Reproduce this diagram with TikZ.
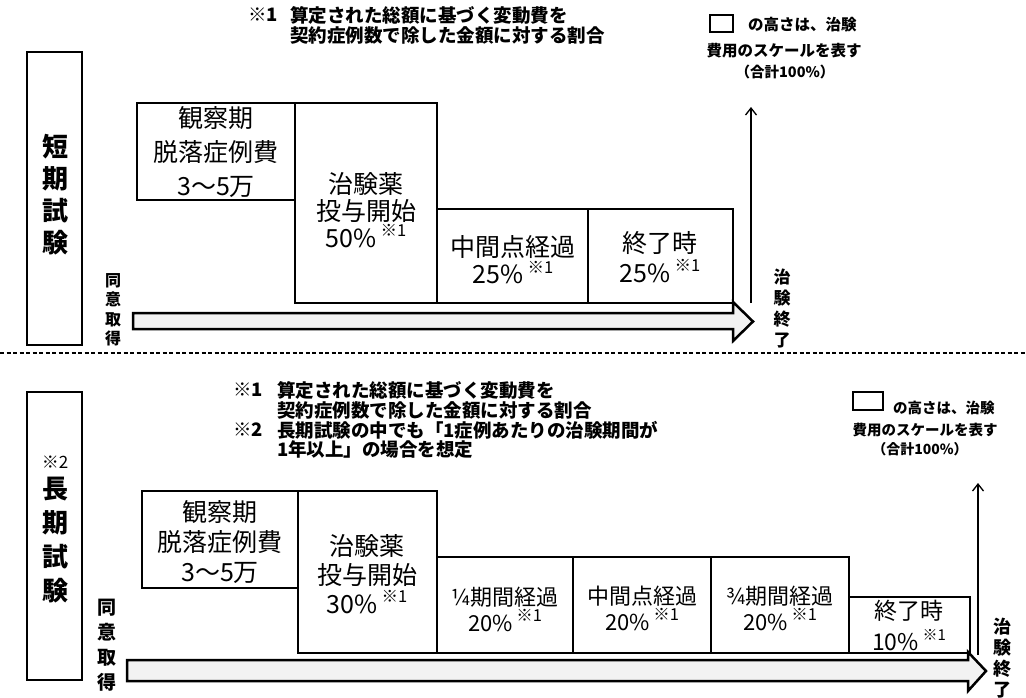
\documentclass[tikz,border=0pt]{standalone}
\usepackage{fontspec}
\setmainfont{Noto Sans CJK JP}
\usetikzlibrary{arrows.meta}
\newcommand{\fsz}[2]{\fontsize{#1}{#2}\selectfont}
\newcommand{\kmark}{\raisebox{0.42em}{\fsz{16.5}{16.5}※1}}
\begin{document}
\begin{tikzpicture}[x=1pt,y=-1pt,
  cbox/.style={draw, line width=2.2pt, inner sep=0pt},
  lbox/.style={draw, line width=2.5pt, inner sep=0pt, minimum width=55pt},
  btxt/.style={align=center, inner sep=0pt},
  note/.style={anchor=west, inner sep=0pt, font=\bfseries\fsz{18.5}{20}},
  vtxt/.style={align=center, inner sep=0pt},
  tline/.style={draw, line width=2.5pt, fill=black!5, line join=miter},
  uparrow/.style={line width=1.3pt, -{Straight Barb[length=7pt,width=11pt,line width=1.3pt]}},
  icon/.style={draw, line width=2.5pt, inner sep=0pt},
]
\useasboundingbox (0,0) rectangle (1026,697);

% ---------------- top section ----------------
\node[note] (n1a) at (248,15) {※1};
\node[note] (n1b) at (290,15) {算定された総額に基づく変動費を};
\node[note] (n1c) at (290,35) {契約症例数で除した金額に対する割合};

\node[icon, minimum width=23pt, minimum height=17pt] (ic1) at (721.5,23.5) {};
\node[anchor=west, inner sep=0pt, font=\bfseries\fsz{15.5}{16}] (r1a) at (748,25) {の高さは、治験};
\node[inner sep=0pt, font=\bfseries\fsz{15.5}{16}] (r1b) at (784,51) {費用のスケールを表す};
\node[inner sep=0pt, font=\bfseries\fsz{14.5}{16}] (r1c) at (785,72) {（合計100\%）};

\node[lbox, minimum height=293pt] (lab1) at (54.5,198.5) {};
\node[vtxt, font=\bfseries\fsz{26}{32}] (lab1t) at (55,195) {短\\期\\試\\験};

\node[cbox, minimum width=158pt, minimum height=97pt] (obs1) at (216,151.5) {};
\node[cbox, minimum width=142pt, minimum height=200pt] (drug1) at (366,203) {};
\node[cbox, minimum width=151pt, minimum height=94pt] (mid1) at (512.5,256) {};
\node[cbox, minimum width=145pt, minimum height=94pt] (end1) at (660.5,256) {};

\node[btxt, font=\fsz{25}{34}] (obs1t) at (216,152) {観察期\\脱落症例費\\3〜5万};
\node[btxt, font=\fsz{25}{27}] (drug1t) at (366,210) {治験薬\\投与開始\\50\%\,\kmark};
\node[btxt, font=\fsz{25}{27}] (mid1t) at (513,260) {中間点経過\\25\%\,\kmark};
\node[btxt, font=\fsz{25}{30}] (end1t) at (660,257) {終了時\\25\%\,\kmark};

\draw[tline] (133,313) -- (733,313) -- (733,302) -- (753,321.5) -- (733,341) -- (733,329) -- (133,329) -- cycle;

\node[vtxt, font=\bfseries\fsz{16}{19.5}] (agr1) at (113,310) {同\\意\\取\\得};
\node[vtxt, font=\bfseries\fsz{17}{21}] (fin1) at (782,309) {治\\験\\終\\了};

\coordinate (va1s) at (751,303);
\coordinate (va1e) at (751,107);
\draw[uparrow] (va1s) -- (va1e);

% divider
\coordinate (dvl) at (0,353);
\coordinate (dvr) at (1026,353);
\draw[line width=1.5pt, dash pattern=on 4pt off 2.5pt] (dvl) -- (dvr);

% ---------------- bottom section ----------------
\node[note] (n2a) at (233,390) {※1};
\node[note] (n2b) at (277,390) {算定された総額に基づく変動費を};
\node[note] (n2c) at (277,410) {契約症例数で除した金額に対する割合};
\node[note] (n2d) at (233,430) {※2};
\node[note] (n2e) at (277,430) {長期試験の中でも「1症例あたりの治験期間が};
\node[note] (n2f) at (277,449) {1年以上」の場合を想定};

\node[icon, minimum width=30pt, minimum height=18pt] (ic2) at (868,401) {};
\node[anchor=west, inner sep=0pt, font=\bfseries\fsz{14.5}{16}] (r2a) at (893,408) {の高さは、治験};
\node[inner sep=0pt, font=\bfseries\fsz{14.5}{16}] (r2b) at (925,430) {費用のスケールを表す};
\node[inner sep=0pt, font=\bfseries\fsz{14}{16}] (r2c) at (920,449) {（合計100\%）};

\node[lbox, minimum height=288pt] (lab2) at (54.5,536) {};
\node[inner sep=0pt, font=\fsz{17}{17}] (lab2m) at (55,462) {※2};
\node[vtxt, font=\bfseries\fsz{26}{34}] (lab2t) at (55,540) {長\\期\\試\\験};

\node[cbox, minimum width=156pt, minimum height=97pt] (obs2) at (220,539.5) {};
\node[cbox, minimum width=139pt, minimum height=162pt] (drug2) at (367.5,572) {};
\node[cbox, minimum width=136pt, minimum height=96pt] (q1) at (505,605) {};
\node[cbox, minimum width=138pt, minimum height=96pt] (mid2) at (642,605) {};
\node[cbox, minimum width=138pt, minimum height=96pt] (q3) at (780,605) {};
\node[cbox, minimum width=121pt, minimum height=56pt] (end2) at (909.5,625) {};

\node[btxt, font=\fsz{25}{30}] (obs2t) at (220,542) {観察期\\脱落症例費\\3〜5万};
\node[btxt, font=\fsz{25}{29}] (drug2t) at (367,574) {治験薬\\投与開始\\30\%\,\kmark};
\node[btxt, font=\fsz{22}{26}] (q1t) at (505,609) {¼期間経過\\20\%\,\kmark};
\node[btxt, font=\fsz{22}{26}] (mid2t) at (642,608) {中間点経過\\20\%\,\kmark};
\node[btxt, font=\fsz{22}{26}] (q3t) at (780,608) {¾期間経過\\20\%\,\kmark};
\node[btxt, font=\fsz{23}{23}] (end2a) at (909,611) {終了時};
\node[btxt, font=\fsz{23}{23}] (end2b) at (909,640) {10\%\,\raisebox{0.4em}{\fsz{15}{15}※1}};

\draw[tline] (127,660) -- (968,660) -- (968,652) -- (986,671) -- (968,691) -- (968,681) -- (127,681) -- cycle;

\node[vtxt, font=\bfseries\fsz{19}{25}] (agr2) at (107,645) {同\\意\\取\\得};
\node[vtxt, font=\bfseries\fsz{18}{21}] (fin2) at (1002,658) {治\\験\\終\\了};

\coordinate (va2s) at (978,655);
\coordinate (va2e) at (978,483);
\draw[uparrow] (va2s) -- (va2e);
\end{tikzpicture}
\end{document}
